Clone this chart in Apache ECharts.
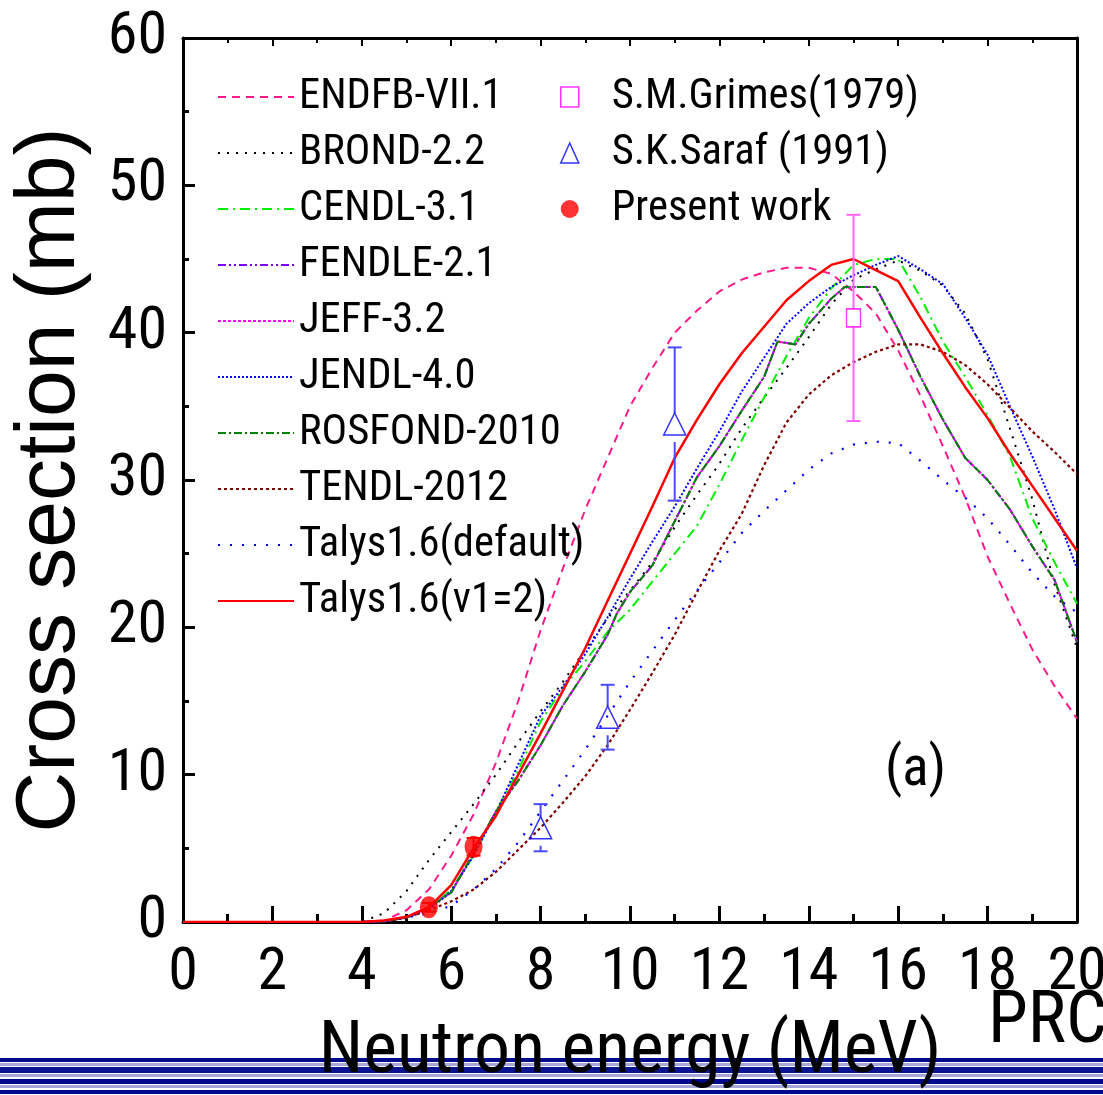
<!DOCTYPE html>
<html>
<head>
<meta charset="utf-8">
<script src="https://cdn.jsdelivr.net/npm/echarts@6/dist/echarts.min.js"></script>
<style>
html,body{margin:0;padding:0;background:#fff;}
#chart{width:1103px;height:1095px;}
</style>
</head>
<body>
<div id="chart"></div>
<script>
// ---------------- data ----------------
const energyGrid = [0,1,2,3,4,4.5,5,5.5,6,6.5,7,7.5,8,8.5,9,9.5,10,10.5,11,11.5,12,12.5,13,13.5,14,14.5,15,15.5,16,16.5,17,17.5,18,18.5,19,19.5,20];
const endfb    = [0,0,0,0,0, 0.1,0.8,2.2,4.5,7.3, 10.8,15.0,19.8,24.0,28.0, 31.5,35.0,37.6,40.0,41.5, 42.8,43.6,44.1,44.4,44.4, 44.0,42.8,41.3,38.8,35.7, 32.3,28.8,24.8,21.6,18.5, 16.0,13.8];
const brond    = [0,0,0,0,0, 0.6,2.1,4.2,6.1,8.0, 10.0,12.2,14.3,16.3,18.5, 20.6,22.5,24.4,26.8,29.0, 31.1,33.5,35.6,37.6,39.7, 41.9,43.6,44.3,44.9,44.2, 43.2,41.3,38.2,33.5,28.7, 22.9,18.6];
const cendl    = [0,0,0,0,0, 0.05,0.3,0.9,2.2,4.5, 7.5,10.3,13.6,15.9,17.7, 19.7,21.2,23.1,25.0,26.9, 29.7,32.7,35.6,38.4,41.0, 43.0,44.6,45.0,45.0,42.4, 39.4,37.0,34.4,31.6,27.4, 24.4,21.6];
const jendl    = [0,0,0,0,0, 0.05,0.3,0.8,2.1,4.5, 7.4,10.7,14.0,16.0,18.2, 20.7,23.3,25.8,28.2,30.8, 33.3,36.0,38.3,40.6,42.0, 43.1,43.9,44.6,45.2,44.3, 43.3,41.0,38.5,35.0,31.6, 28.0,24.0];
const tendl    = [0,0,0,0,0, 0.05,0.3,0.8,1.4,2.2, 3.4,4.9,6.4,8.1,9.9, 12.0,14.4,16.9,19.5,22.4, 25.2,27.7,31.0,33.9,35.8, 37.1,38.0,38.7,39.2,39.2, 38.7,37.8,36.5,34.9,33.3, 31.9,30.4];
const talysDefault = [0,0,0,0,0, 0.05,0.3,0.6,1.1,2.2, 3.6,5.4,7.5,9.6,11.7, 14.0,16.3,18.4,20.5,22.5, 24.4,26.4,27.9,29.3,30.7, 31.8,32.4,32.6,32.5,31.3, 30.0,28.8,27.4,25.6,23.7, 22.1,21.0];
const talysV1  = [0,0,0,0,0, 0.1,0.35,1.0,2.5,5.0, 7.2,10.0,12.8,15.7,18.6, 21.8,25.0,28.2,31.5,34.1, 36.5,38.6,40.4,42.2,43.5, 44.6,45.0,44.25,43.5,41.0, 38.6,36.3,34.2,31.8,29.6, 27.4,25.2];
// FENDL-2.1 / JEFF-3.2 / ROSFOND-2010 coincide
const evalEnergy = [0,1,2,3,4,4.5,5,5.5,6,6.5,7,7.5,8,8.5,9,9.5,9.7,10,10.5,11,11.5,12,12.5,13,13.3,13.7,14,14.5,14.8,15.5,16,16.5,17,17.5,18,18.5,19,19.5,20];
const evalValues = [0,0,0,0,0, 0.05,0.3,1.0,2.0,4.7, 7.5,9.6,12.0,14.7,17.0, 19.5,20.9,22.4,24.2,27.2, 30.2,32.3,34.7,37.0,39.4, 39.2,40.6,42.3,43.1,43.1, 40.2,37.0,34.1,31.5,30.0, 28.0,25.5,23.2,19.0];
// experimental points [E, sigma, error]
const grimes  = [[15, 41.0, 7.0]];
const saraf   = [[8, 6.4, 1.6], [9.5, 13.9, 2.2], [11, 33.8, 5.2]];
const present = [[5.5, 1.0, 0.3], [6.5, 5.1, 0.6]];
const xTicks = [0,2,4,6,8,10,12,14,16,18,20];
const yTicks = [0,10,20,30,40,50,60];

// ---------------- font selection (narrow face if available) ----------------
const ctx = document.createElement('canvas').getContext('2d');
function hasFont(name) {
  const s = 'ENDFB-VII.1 0123456789 Neutron energy';
  const r = [];
  ['monospace', 'serif'].forEach(base => {
    ctx.font = '40px ' + base; const a = ctx.measureText(s).width;
    ctx.font = '40px "' + name + '", ' + base; const b = ctx.measureText(s).width;
    r.push(Math.abs(a - b) > 0.5);
  });
  return r[0] && r[1];
}
const candidates = ['Liberation Sans Narrow', 'Arial Narrow', 'Noto Sans ExtraCondensed', 'Noto Sans Condensed', 'Roboto Condensed', 'Noto Sans SemiCondensed', 'DejaVu Sans Condensed', 'Liberation Sans'];
let NF = 'Liberation Sans';
for (const c of candidates) { if (hasFont(c)) { NF = c; break; } }
const NARROW = '"' + NF + '", sans-serif';
function widthAt1(text) { ctx.font = '100px ' + NARROW; return ctx.measureText(text).width / 100; }
// size balancing width (from reference) and cap height (from reference)
function fitSize(text, targetW, heightSize) {
  const fw = targetW / widthAt1(text);
  return Math.round(Math.sqrt(fw * heightSize) * 10) / 10;
}
const tickFont = fitSize('60', 53, 67);
const legFont = fitSize('ENDFB-VII.1', 197, 44);
const xNameFont = fitSize('Neutron energy (MeV)', 590, 76);
const aFont = fitSize('(a)', 58, 58);

// ---------------- chart ----------------
const chart = echarts.init(document.getElementById('chart'), null, {renderer: 'canvas'});
const pair = (xs, ys) => xs.map((x, i) => [x, ys[i]]);

function lineSeries(name, xs, ys, color, type, width) {
  return {
    name, type: 'line', data: pair(xs, ys), symbol: 'none', showSymbol: false,
    lineStyle: {color, type, width: width || 2, cap: 'butt'},
    itemStyle: {color}, z: 3
  };
}
function errSeries(data, color, gapTop, gapBot) {
  return {
    type: 'custom', data, itemStyle: {color}, z: 4,
    renderItem: function (params, api) {
      const x = api.value(0), y = api.value(1), e = api.value(2);
      const c = api.coord([x, y]), t = api.coord([x, y + e]), b = api.coord([x, y - e]);
      const st = {stroke: color, lineWidth: 2};
      const kids = [];
      if (c[1] - gapTop > t[1]) kids.push({type: 'line', shape: {x1: t[0], y1: t[1], x2: c[0], y2: c[1] - gapTop}, style: st});
      if (b[1] > c[1] + gapBot) kids.push({type: 'line', shape: {x1: c[0], y1: c[1] + gapBot, x2: b[0], y2: b[1]}, style: st});
      kids.push({type: 'line', shape: {x1: t[0] - 7, y1: t[1], x2: t[0] + 7, y2: t[1]}, style: st});
      kids.push({type: 'line', shape: {x1: b[0] - 7, y1: b[1], x2: b[0] + 7, y2: b[1]}, style: st});
      return {type: 'group', children: kids};
    }
  };
}

const stripes = [];
[[1058,4,'#000a8c'],[1063,3,'#a6a6d8'],[1067,6,'#0a1490'],[1074,3,'#a6a6d8'],[1079,5,'#000a8c'],[1085,3,'#a6a6d8'],[1090,4,'#000a8c']].forEach(s => {
  stripes.push({type: 'rect', shape: {x: 0, y: s[0], width: 1103, height: s[1]}, style: {fill: s[2]}, z: -1, silent: true});
});

const option = {
  animation: false,
  backgroundColor: '#fff',
  grid: {left: 183, right: 26, top: 38, bottom: 173, containLabel: false, outerBoundsMode: 'none'},
  xAxis: [{
    type: 'value', min: 0, max: 20, interval: 2, position: 'bottom',
    axisLine: {show: true, onZero: false, lineStyle: {color: '#000', width: 3}},
    axisTick: {show: true, inside: true, length: 16, lineStyle: {color: '#000', width: 3}},
    minorTick: {show: true, splitNumber: 2, length: 8, lineStyle: {color: '#000', width: 3}},
    splitLine: {show: false},
    axisLabel: {color: '#000', fontFamily: NARROW, fontSize: tickFont, margin: 22,
      formatter: v => xTicks.indexOf(v) >= 0 ? String(v) : ''},
    name: 'Neutron energy (MeV)', nameLocation: 'middle', nameGap: 96,
    nameTextStyle: {color: '#000', fontFamily: NARROW, fontSize: xNameFont}
  }, {
    type: 'value', min: 0, max: 20, interval: 2, position: 'top',
    axisLine: {show: true, onZero: false, lineStyle: {color: '#000', width: 3}},
    axisTick: {show: true, inside: true, length: 8, lineStyle: {color: '#000', width: 2}},
    minorTick: {show: true, splitNumber: 2, length: 5, lineStyle: {color: '#000', width: 2}},
    splitLine: {show: false}, axisLabel: {show: false}
  }],
  yAxis: [{
    type: 'value', min: 0, max: 60, interval: 10, position: 'left',
    axisLine: {show: true, onZero: false, lineStyle: {color: '#000', width: 3}},
    axisTick: {show: true, inside: true, length: 12, lineStyle: {color: '#000', width: 3}},
    minorTick: {show: true, splitNumber: 2, length: 6, lineStyle: {color: '#000', width: 3}},
    splitLine: {show: false},
    axisLabel: {color: '#000', fontFamily: NARROW, fontSize: tickFont, margin: 16,
      formatter: v => yTicks.indexOf(v) >= 0 ? String(v) : ''},
    name: 'Cross section (mb)', nameLocation: 'middle', nameGap: 90,
    nameTextStyle: {color: '#000', fontFamily: '"Liberation Sans",Arial,sans-serif', fontSize: 84}
  }, {
    type: 'value', min: 0, max: 60, position: 'right',
    axisLine: {show: true, onZero: false, lineStyle: {color: '#000', width: 3}},
    axisTick: {show: false}, splitLine: {show: false}, axisLabel: {show: false}
  }],
  legend: [{
    orient: 'vertical', left: 212, top: 67, itemWidth: 76, itemHeight: 14, itemGap: 6,
    selectedMode: false, itemStyle: {opacity: 0},
    textStyle: {color: '#000', fontFamily: NARROW, fontSize: legFont, lineHeight: 50, padding: [0, 0, 0, 0]},
    data: ['ENDFB-VII.1','BROND-2.2','CENDL-3.1','FENDLE-2.1','JEFF-3.2','JENDL-4.0','ROSFOND-2010','TENDL-2012','Talys1.6(default)','Talys1.6(v1=2)']
  }, {
    orient: 'vertical', left: 555, top: 67, itemWidth: 18, itemHeight: 20, itemGap: 6,
    selectedMode: false,
    textStyle: {color: '#000', fontFamily: NARROW, fontSize: legFont, lineHeight: 50, padding: [0, 0, 0, 28]},
    data: [
      {name: 'S.M.Grimes(1979)', icon: 'rect', itemStyle: {color: 'rgba(0,0,0,0)', borderColor: '#ff00ff', borderWidth: 1.5}},
      {name: 'S.K.Saraf (1991)', icon: 'triangle', itemStyle: {color: 'rgba(0,0,0,0)', borderColor: '#0000ff', borderWidth: 1.5}},
      {name: 'Present work', icon: 'circle', itemStyle: {color: '#ff0000'}}
    ]
  }],
  graphic: {elements: stripes.concat([
    {type: 'text', left: 885, top: 744, z: 10, style: {text: '(a)', fill: '#000', font: aFont + 'px ' + NARROW}},
    {type: 'text', left: 988, top: 988, z: 10, style: {text: 'PRC', fill: '#000', font: xNameFont + 'px ' + NARROW}}
  ])},
  series: [
    lineSeries('ENDFB-VII.1', energyGrid, endfb, '#ff1a8c', [8, 6], 2),
    lineSeries('BROND-2.2', energyGrid, brond, '#000000', [2, 7], 2),
    lineSeries('CENDL-3.1', energyGrid, cendl, '#00ee00', [10, 5, 2, 5], 2),
    lineSeries('FENDLE-2.1', evalEnergy, evalValues, '#8000ff', [8, 3, 2, 3, 2, 3], 2),
    lineSeries('JEFF-3.2', evalEnergy, evalValues, '#ff00ff', [3, 2], 2),
    lineSeries('JENDL-4.0', energyGrid, jendl, '#0000ff', [2, 2], 2),
    lineSeries('ROSFOND-2010', evalEnergy, evalValues, '#008000', [8, 3, 2, 3], 2),
    lineSeries('TENDL-2012', energyGrid, tendl, '#800000', [3, 3], 2.2),
    lineSeries('Talys1.6(default)', energyGrid, talysDefault, '#0000ff', [2, 10], 2.2),
    lineSeries('Talys1.6(v1=2)', energyGrid, talysV1, '#ff0000', 'solid', 2.5),
    errSeries(grimes, '#ff66ff', 9, 9),
    errSeries(saraf, '#4a4aff', 11, 18),
    errSeries(present, '#ff0000', 0, 0),
    {name: 'S.M.Grimes(1979)', type: 'scatter', data: grimes.map(d => [d[0], d[1]]), symbol: 'rect', symbolSize: [14, 18], z: 5,
      itemStyle: {color: 'rgba(0,0,0,0)', borderColor: '#ff00ff', borderWidth: 1.5}},
    {name: 'S.K.Saraf (1991)', type: 'scatter', data: saraf.map(d => [d[0], d[1]]), symbol: 'triangle', symbolSize: [22, 22], z: 5,
      itemStyle: {color: 'rgba(0,0,0,0)', borderColor: '#0000ff', borderWidth: 1.5}},
    {name: 'Present work', type: 'scatter', data: present.map(d => [d[0], d[1]]), symbol: 'circle', symbolSize: [18, 22], z: 5,
      itemStyle: {color: '#ff0000'}}
  ]
};
chart.setOption(option);
</script>
</body>
</html>
